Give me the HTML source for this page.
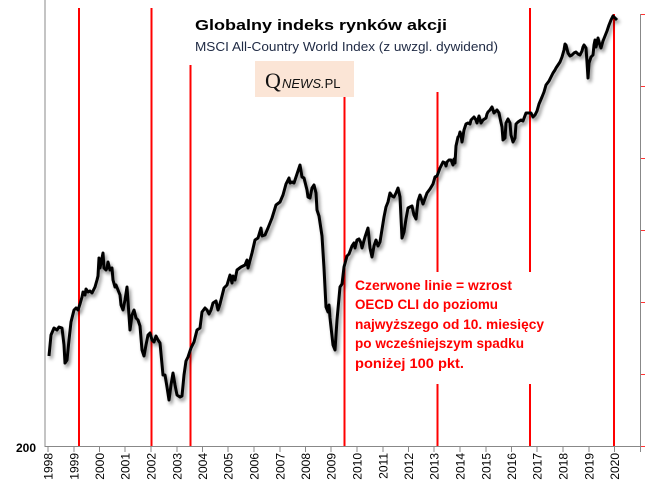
<!DOCTYPE html>
<html><head><meta charset="utf-8"><style>
html,body{margin:0;padding:0;background:#fff;}
svg{display:block;font-family:"Liberation Sans",sans-serif;}
</style></head><body>
<svg width="655" height="494" viewBox="0 0 655 494">
<defs><filter id="sh" x="-5%" y="-5%" width="110%" height="110%"><feDropShadow dx="2" dy="3" stdDeviation="1.8" flood-color="#000" flood-opacity="0.45"/></filter></defs>
<!-- axes -->
<line x1="45" y1="0" x2="45" y2="447" stroke="#888" stroke-width="1"/>
<line x1="45" y1="446.5" x2="641" y2="446.5" stroke="#888" stroke-width="1"/>
<line x1="640.5" y1="14" x2="640.5" y2="452" stroke="#888" stroke-width="1"/>
<g stroke="#888">
<line x1="48" y1="447" x2="48" y2="452"/><line x1="74" y1="447" x2="74" y2="452"/><line x1="99.5" y1="447" x2="99.5" y2="452"/><line x1="125" y1="447" x2="125" y2="452"/><line x1="151" y1="447" x2="151" y2="452"/><line x1="177" y1="447" x2="177" y2="452"/><line x1="202.5" y1="447" x2="202.5" y2="452"/><line x1="228" y1="447" x2="228" y2="452"/><line x1="254" y1="447" x2="254" y2="452"/><line x1="280" y1="447" x2="280" y2="452"/><line x1="305.5" y1="447" x2="305.5" y2="452"/><line x1="331" y1="447" x2="331" y2="452"/><line x1="357" y1="447" x2="357" y2="452"/><line x1="383" y1="447" x2="383" y2="452"/><line x1="408.5" y1="447" x2="408.5" y2="452"/><line x1="434" y1="447" x2="434" y2="452"/><line x1="460" y1="447" x2="460" y2="452"/><line x1="486" y1="447" x2="486" y2="452"/><line x1="511.5" y1="447" x2="511.5" y2="452"/><line x1="537" y1="447" x2="537" y2="452"/><line x1="563" y1="447" x2="563" y2="452"/><line x1="589" y1="447" x2="589" y2="452"/><line x1="614.5" y1="447" x2="614.5" y2="452"/>
</g>
<g stroke="#f33" stroke-width="1"><line x1="641" y1="14.5" x2="645" y2="14.5"/><line x1="641" y1="86.5" x2="645" y2="86.5"/><line x1="641" y1="158.5" x2="645" y2="158.5"/><line x1="641" y1="230.5" x2="645" y2="230.5"/><line x1="641" y1="302.5" x2="645" y2="302.5"/><line x1="641" y1="374.5" x2="645" y2="374.5"/><line x1="641" y1="446.5" x2="645" y2="446.5"/></g>
<text x="36" y="452" text-anchor="end" font-size="12" font-weight="bold" fill="#000">200</text>
<g font-size="12" fill="#000" text-anchor="end">
<text transform="translate(52.5,453) rotate(-90)">1998</text><text transform="translate(78.5,453) rotate(-90)">1999</text><text transform="translate(104,453) rotate(-90)">2000</text><text transform="translate(129.5,453) rotate(-90)">2001</text><text transform="translate(155.5,453) rotate(-90)">2002</text><text transform="translate(181.5,453) rotate(-90)">2003</text><text transform="translate(207,453) rotate(-90)">2004</text><text transform="translate(232.5,453) rotate(-90)">2005</text><text transform="translate(258.5,453) rotate(-90)">2006</text><text transform="translate(284.5,453) rotate(-90)">2007</text><text transform="translate(310,453) rotate(-90)">2008</text><text transform="translate(335.5,453) rotate(-90)">2009</text><text transform="translate(361.5,453) rotate(-90)">2010</text><text transform="translate(387.5,453) rotate(-90)">2011</text><text transform="translate(413,453) rotate(-90)">2012</text><text transform="translate(438.5,453) rotate(-90)">2013</text><text transform="translate(464.5,453) rotate(-90)">2014</text><text transform="translate(490.5,453) rotate(-90)">2015</text><text transform="translate(516,453) rotate(-90)">2016</text><text transform="translate(541.5,453) rotate(-90)">2017</text><text transform="translate(567.5,453) rotate(-90)">2018</text><text transform="translate(593.5,453) rotate(-90)">2019</text><text transform="translate(619,453) rotate(-90)">2020</text>
</g>
<!-- red lines -->
<g stroke="#f00" stroke-width="2">
<line x1="79" y1="8" x2="79" y2="446"/>
<line x1="151.5" y1="8" x2="151.5" y2="446"/>
<line x1="190.5" y1="65" x2="190.5" y2="446"/>
<line x1="344.5" y1="97" x2="344.5" y2="446"/>
<line x1="437.5" y1="92" x2="437.5" y2="272"/><line x1="437.5" y1="384" x2="437.5" y2="446"/>
<line x1="530" y1="8" x2="530" y2="272"/><line x1="530" y1="384" x2="530" y2="446"/>
<line x1="614" y1="14" x2="614" y2="446"/>
</g>
<!-- series -->
<polyline filter="url(#sh)" fill="none" stroke="#000" stroke-width="3" stroke-linejoin="round" points="49,356 51,335 54,328 57,330 59,327 62,328 64,345 65,363 67,360 69,340 71,322 74,310 76,308 78,310 80,304 82,297 83,292 85,295 86,289 88,292 90,291 92,293 95,287 97,280 98,276 99,258 100,268 103,253 104,268 106,270 107,268 108,262 110,270 112,268 113,280 115,287 116,285 120,295 121,305 123,310 125,300 127,287 130,330 132,315 134,310 136,318 138,320 140,326 142,350 144,356 146,345 148,335 150,333 152,340 154,342 156,336 158,340 160,343 163,375 165,375 167,387 169,400 171,385 173,373 175,385 177,395 180,397 182,396 184,375 186,361 188,357 191,348 194,342 197,330 200,328 202,312 205,308 207,310 209,314 211,310 213,303 216,301 218,310 220,304 224,288 227,285 230,275 232,283 233,276 235,280 237,270 241,267 245,265 247,260 248,268 252,253 255,240 258,238 261,228 262,236 265,235 268,228 272,218 276,205 280,202 283,195 286,184 289,178 290,183 292,182 294,183 296,177 300,165 302,177 304,178 307,190 308,197 310,198 312,188 314,185 316,193 317,210 319,216 322,236 324,268 326,307 328,312 329,305 330,318 333,345 335,350 337,320 340,287 342,284 344,267 347,256 349,254 352,246 354,243 355,248 357,240 359,239 361,243 362,248 365,237 368,228 370,248 372,257 374,246 376,240 378,246 380,242 384,217 386,207 388,202 390,193 392,196 394,197 396,193 398,188 400,197 402,238 404,232 406,219 408,208 410,207 412,206 414,215 416,219 418,201 420,195 423,204 427,193 430,189 433,184 435,177 437,176 440,168 443,162 445,163 446,166 447,162 449,160 451,160 453,165 454,159 455,163 456,146 458,137 459,136 460,132 461,135 462,142 464,130 466,124 468,123 470,124 471,120 474,117 476,120 477,123 479,116 481,123 483,120 486,118 487,114 488,112 490,110 492,107 494,113 497,110 499,113 500,118 502,127 503,140 505,138 506,123 508,119 510,123 511,135 513,142 515,138 516,124 518,122 521,120 523,121 526,113 529,113 531,113 533,117 535,115 537,111 539,104 542,97 544,92 546,85 549,81 551,77 553,73 555,70 556,68 558,65 560,62 562,57 564,50 565,44 566,45 568,53 570,56 572,55 574,53 576,52 578,54 580,55 582,51 583,47 584,45 586,48 587,62 588,78 589,63 591,57 593,55 594,45 595,40 596,47 597,43 598,38 599,42 601,48 603,41 605,36 607,31 609,25 611,20 613,16 615,18 617,20"/>
<!-- titles -->
<text x="195" y="30" font-size="15" font-weight="bold" fill="#000" textLength="252" lengthAdjust="spacingAndGlyphs">Globalny indeks rynków akcji</text>
<text x="195" y="51" font-size="12.5" fill="#1f2a44" textLength="303" lengthAdjust="spacingAndGlyphs">MSCI All-Country World Index (z uwzgl. dywidend)</text>
<rect x="255" y="61" width="99" height="36" fill="#fbe5d6"/>
<text x="265" y="88" font-family="Liberation Serif,serif" font-size="22" fill="#111">Q</text>
<text x="282" y="88" font-size="13" font-style="italic" fill="#111">NEWS.<tspan font-style="normal">PL</tspan></text>
<g font-size="14" font-weight="bold" fill="#f00">
<text x="355" y="290" textLength="157" lengthAdjust="spacingAndGlyphs">Czerwone linie = wzrost</text>
<text x="355" y="309" textLength="143" lengthAdjust="spacingAndGlyphs">OECD CLI do poziomu</text>
<text x="355" y="329" textLength="189" lengthAdjust="spacingAndGlyphs">najwyższego od 10. miesięcy</text>
<text x="355" y="348" textLength="169" lengthAdjust="spacingAndGlyphs">po wcześniejszym spadku</text>
<text x="355" y="368" textLength="109" lengthAdjust="spacingAndGlyphs">poniżej 100 pkt.</text>
</g>
</svg>
</body></html>
